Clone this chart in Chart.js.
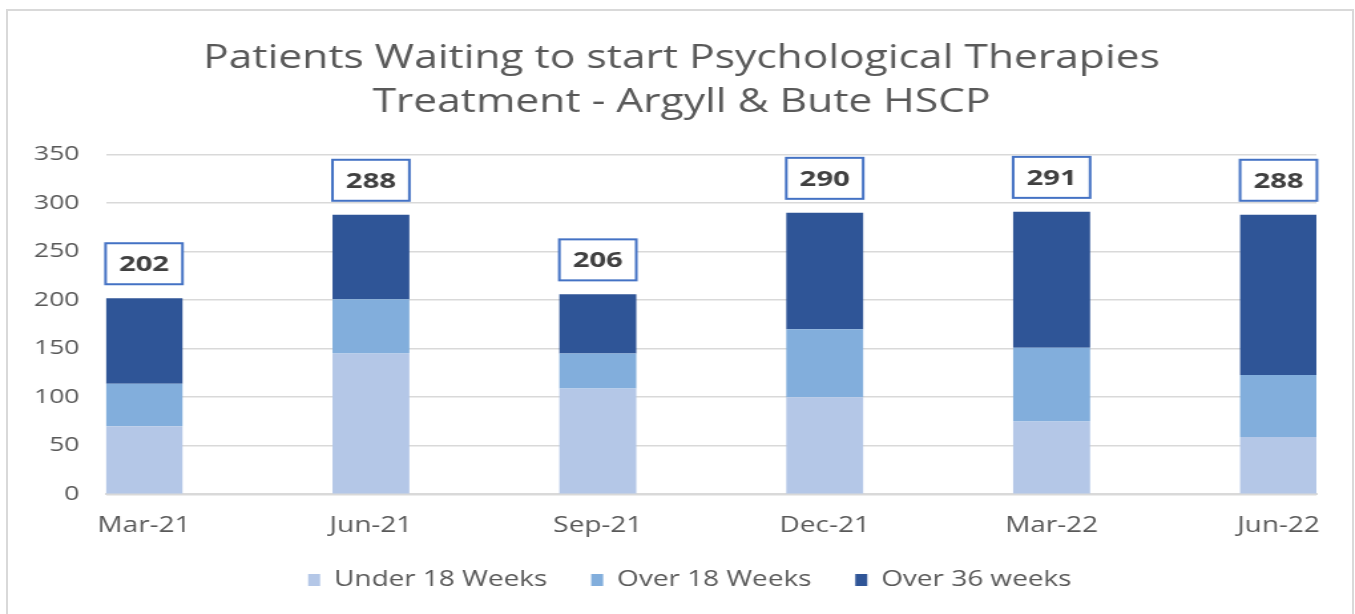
<!DOCTYPE html>
<html>
<head>
<meta charset="utf-8">
<script src="https://cdn.jsdelivr.net/npm/chart.js@4.4.0/dist/chart.umd.min.js"></script>
<style>
  body { margin: 0; background: #fff; overflow: hidden; }
  #frame {
    position: absolute; left: 6px; top: 9px; width: 1348px; height: 700px;
    border: 2px solid #d9d9d9; border-bottom: none; box-sizing: border-box;
  }
  /* the original picture is stretched sideways, so stretch the canvas too */
  #chart { position: absolute; left: 0; top: 0; transform-origin: 0 0; transform: scaleX(1.3297); }
</style>
</head>
<body>
<div id="frame"></div>
<canvas id="chart" width="1019" height="614"></canvas>
<script>
const categories = ['Mar-21', 'Jun-21', 'Sep-21', 'Dec-21', 'Mar-22', 'Jun-22'];
const under18 = [70, 145, 109, 100, 75, 59];
const over18 = [44, 56, 36, 70, 76, 64];
const over36 = [88, 87, 61, 120, 140, 165];
const totals = [202, 288, 206, 290, 291, 288];
const yTicks = [0, 50, 100, 150, 200, 250, 300, 350];

const textColor = '#595959';
const fontName = "'Open Sans', 'Noto Sans', sans-serif";

function points(values) {
    return values.map((v, i) => ({ x: i, y: v }));
}

// boxed total above each column
const totalLabels = {
    id: 'totalLabels',
    afterDatasetsDraw(chart) {
        const ctx = chart.ctx;
        const meta = chart.getDatasetMeta(2);
        const yScale = chart.scales.y;
        ctx.save();
        meta.data.forEach((bar, i) => {
            const w = bar.width;
            const h = 41;
            const bottom = yScale.getPixelForValue(totals[i]) - 14;
            const left = bar.x - w / 2;
            ctx.fillStyle = '#fff';
            ctx.fillRect(left, bottom - h, w, h);
            ctx.lineWidth = 2;
            ctx.strokeStyle = '#4472C4';
            ctx.strokeRect(left, bottom - h, w, h);
            ctx.fillStyle = '#404040';
            ctx.font = "bold 22px " + fontName;
            ctx.textAlign = 'center';
            ctx.textBaseline = 'middle';
            ctx.fillText(String(totals[i]), bar.x, bottom - h / 2 + 1);
        });
        ctx.restore();
    }
};

// title and legend sit a little right of the plot's centre in the original
const nudgeBlocks = {
    id: 'nudgeBlocks',
    afterLayout(chart) {
        if (chart.titleBlock) chart.titleBlock.left += 29.5;
        if (chart.legend) chart.legend.left += 42;
    }
};

new Chart(document.getElementById('chart'), {
    type: 'bar',
    data: {
        datasets: [
            { label: 'Under 18 Weeks', data: points(under18), backgroundColor: '#B4C7E7' },
            { label: 'Over 18 Weeks', data: points(over18), backgroundColor: '#82AEDC' },
            { label: 'Over 36 weeks', data: points(over36), backgroundColor: '#2F5597' }
        ]
    },
    options: {
        responsive: false,
        animation: false,
        categoryPercentage: 1,
        barPercentage: 0.339,
        layout: { padding: { left: 5.5, right: 29, top: 0, bottom: 13.5 } },
        scales: {
            x: {
                type: 'linear',
                stacked: true,
                offset: false,
                min: -0.167,
                max: 5.167,
                afterBuildTicks: (scale) => { scale.ticks = categories.map((c, i) => ({ value: i })); },
                grid: { display: false, drawTicks: false, offset: false },
                border: { display: true, color: '#d9d9d9', width: 2 },
                ticks: {
                    autoSkip: false, maxRotation: 0, padding: 19,
                    color: textColor, font: { family: fontName, size: 21 },
                    callback: (v) => categories[v]
                }
            },
            y: {
                stacked: true,
                min: 0,
                max: 350,
                afterBuildTicks: (scale) => { scale.ticks = yTicks.map(v => ({ value: v })); },
                grid: { color: '#d9d9d9', lineWidth: 1.5, drawTicks: false },
                border: { display: false },
                ticks: { padding: 20, color: textColor, font: { family: fontName, size: 20 } }
            }
        },
        plugins: {
            title: {
                display: true,
                text: ['Patients Waiting to start Psychological Therapies', 'Treatment - Argyll & Bute HSCP'],
                color: textColor,
                font: { family: fontName, size: 32, weight: 'normal', lineHeight: 1.4 },
                padding: { top: 36, bottom: 29 }
            },
            legend: {
                position: 'bottom',
                labels: {
                    boxWidth: 9, boxHeight: 12, padding: 12,
                    color: textColor, font: { family: fontName, size: 21 },
                    generateLabels: (chart) => {
                        const items = Chart.defaults.plugins.legend.labels.generateLabels(chart);
                        // wider gap between entries than the vertical padding allows
                        items.forEach((item, i) => { if (i < items.length - 1) item.text += '\u2003'; });
                        return items;
                    }
                }
            },
            tooltip: { enabled: false }
        }
    },
    plugins: [totalLabels, nudgeBlocks]
});
</script>
</body>
</html>
